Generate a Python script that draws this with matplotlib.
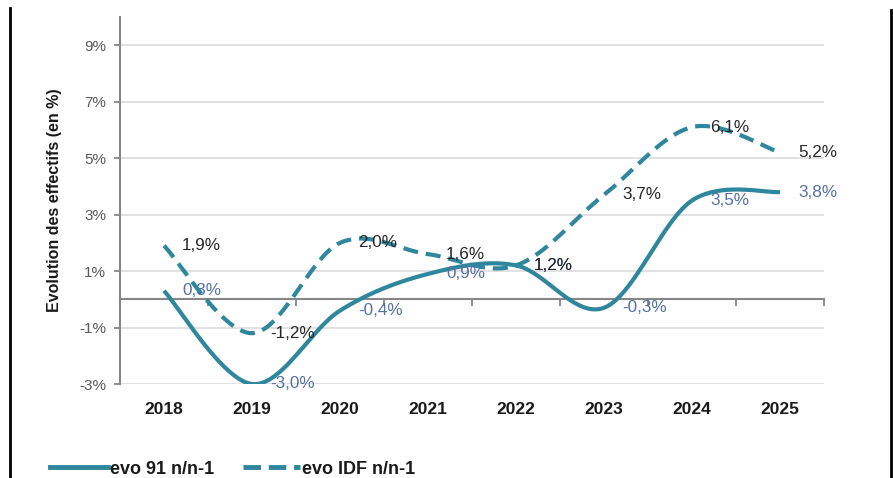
import numpy as np
import matplotlib
matplotlib.use("Agg")
import matplotlib.pyplot as plt
from matplotlib.lines import Line2D

plt.rcParams['font.family'] = ['Liberation Sans', 'DejaVu Sans']

# ---- data ----
years = ["2018", "2019", "2020", "2021", "2022", "2023", "2024", "2025"]
evo_91 = [0.3, -3.0, -0.4, 0.9, 1.2, -0.3, 3.5, 3.8]
evo_idf = [1.9, -1.2, 2.0, 1.6, 1.2, 3.7, 6.1, 5.2]
series_names = ["evo 91 n/n-1", "evo IDF n/n-1"]
yticks = [-3, -1, 1, 3, 5, 7, 9]
ylim = (-3, 10)

LINE = "#2E879C"
LAB91 = "#5470A8"
LABIDF = "#262626"
GRID = "#D9D9D9"
AXIS = "#868686"


def smooth(xs, ys, n=40):
    """Excel-like smoothed line (Catmull-Rom / Bezier) through the points."""
    P = np.column_stack([xs, ys]).astype(float)
    m = len(P)
    out = []
    for i in range(m - 1):
        p0 = P[i - 1] if i > 0 else P[i]
        p1 = P[i]
        p2 = P[i + 1]
        p3 = P[i + 2] if i + 2 < m else P[i + 1]
        c1 = p1 + (p2 - p0) / 6.0
        c2 = p2 - (p3 - p1) / 6.0
        t = np.linspace(0, 1, n)[:, None]
        seg = ((1 - t) ** 3) * p1 + 3 * ((1 - t) ** 2) * t * c1 + 3 * (1 - t) * t ** 2 * c2 + t ** 3 * p2
        if i > 0:
            seg = seg[1:]
        out.append(seg)
    out = np.vstack(out)
    return out[:, 0], out[:, 1]


def fmt(v):
    return ("%.1f%%" % v).replace(".", ",")


fig = plt.figure(figsize=(8.93, 4.78), dpi=100)
W, H = 893, 478
ax = fig.add_axes([120 / W, (H - 384) / H, (824 - 120) / W, (384 - 17) / H])

x = np.arange(len(years))

ax.set_xlim(-0.5, len(years) - 0.5)
ax.set_ylim(*ylim)

# grid
for yv in yticks:
    ax.axhline(yv, color=GRID, lw=1.1, zorder=0)

# zero axis with boundary ticks
zero_loc = (0 - ylim[0]) / (ylim[1] - ylim[0])
sec = ax.secondary_xaxis(zero_loc)
sec.set_xticks(np.arange(-0.5, len(years), 1.0))
sec.set_xticklabels([])
sec.tick_params(axis='x', direction='out', length=5, width=1.3, color=AXIS)
sec.spines['bottom'].set_color(AXIS)
sec.spines['bottom'].set_linewidth(1.5)

# lines
sx, sy = smooth(x, evo_91)
ax.plot(sx, sy, color=LINE, lw=3, solid_capstyle='butt', zorder=3, label=series_names[0])
dx, dy = smooth(x, evo_idf)
ax.plot(dx, dy, color=LINE, lw=3, ls=(0, (3.6, 1.9)), dash_capstyle='butt', zorder=3, label=series_names[1])

# data labels
for xi, v in zip(x, evo_91):
    ax.annotate(fmt(v), (xi, v), xytext=(13, 0), textcoords='offset points',
                ha='left', va='center', fontsize=12.3, color=LAB91, zorder=5)
for xi, v in zip(x, evo_idf):
    ax.annotate(fmt(v), (xi, v), xytext=(13, 0), textcoords='offset points',
                ha='left', va='center', fontsize=12.3, color=LABIDF, zorder=6)

# axes styling
for s in ['top', 'right', 'bottom']:
    ax.spines[s].set_visible(False)
ax.spines['left'].set_color(AXIS)
ax.spines['left'].set_linewidth(1.5)
ax.set_yticks(yticks)
ax.set_yticklabels(["%d%%" % t for t in yticks], fontsize=11, color="#595959")
ax.tick_params(axis='y', direction='out', length=4, width=1.3, color=AXIS, pad=6)
ax.set_xticks(x)
ax.set_xticklabels(years, fontsize=12.5, fontweight='bold', color="#1a1a1a")
ax.tick_params(axis='x', length=0, pad=13)
ax.set_ylabel("Evolution des effectifs (en %)", fontsize=11.5, fontweight='bold', color="#1a1a1a", labelpad=14)
ax.yaxis.set_label_coords(-58 / (824 - 120), 0.5 + (200 - (17 + 384) / 2) / (384 - 17) * -1)

# legend
h1 = Line2D([], [], color=LINE, lw=3.5)
h2 = Line2D([], [], color=LINE, lw=3.5, ls=(0, (3.6, 1.6)))
leg = fig.legend([h1, h2], series_names, loc='center left', bbox_to_anchor=(50 / W, (H - 469) / H),
                 ncol=2, frameon=False, borderpad=0, borderaxespad=0, handlelength=3.2,
                 handletextpad=0.1, columnspacing=1.6, prop={'weight': 'bold', 'size': 13})
for t in leg.get_texts():
    t.set_color("#1a1a1a")

# frame lines of the picture
fig.add_artist(Line2D([10 / W, 10 / W], [0, 1 - 8 / H], transform=fig.transFigure, color='black', lw=2))
fig.add_artist(Line2D([891 / W, 891 / W], [0, 1 - 10 / H], transform=fig.transFigure, color='black', lw=2))

fig.savefig("out.png", dpi=100)
